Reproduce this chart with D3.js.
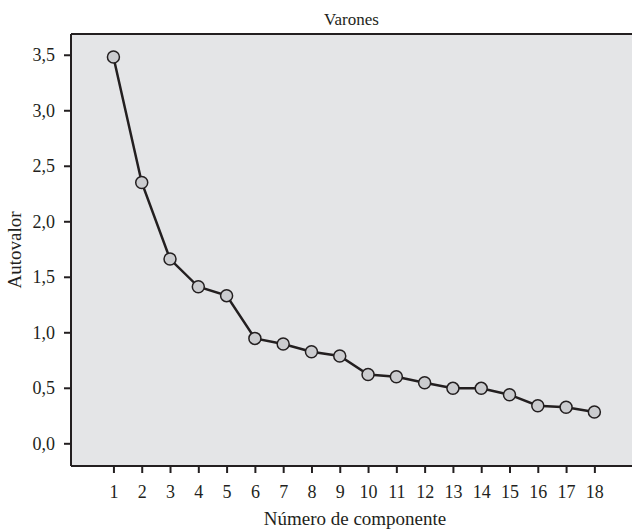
<!DOCTYPE html>
<html><head><meta charset="utf-8">
<script src="https://cdn.jsdelivr.net/npm/d3@7"></script>
<style>body{margin:0;background:#fff}svg{display:block}</style>
</head><body>
<script>
const components = [1,2,3,4,5,6,7,8,9,10,11,12,13,14,15,16,17,18];
const eigenvalues = [3.48,2.35,1.66,1.41,1.33,0.945,0.895,0.825,0.787,0.62,0.60,0.546,0.495,0.495,0.438,0.339,0.324,0.282];
const yTicks = [0,0.5,1.0,1.5,2.0,2.5,3.0,3.5];
const title = "Varones";
const xLabel = "Número de componente";
const yLabel = "Autovalor";

const W = 632, H = 530;
const L = 71, T = 34, R = 632, B = 466;
const font = "'Liberation Serif','Times New Roman',serif";
const ink = "#231f20";

const svg = d3.select("body").append("svg").attr("width", W).attr("height", H);
const x = d3.scaleLinear().domain([-0.5, 19.33]).range([L, R]);
const y = d3.scaleLinear().domain([-0.2045, 3.687]).range([B, T]);

svg.append("rect").attr("x", L).attr("y", T).attr("width", R - L).attr("height", B - T).attr("fill", "#e4e5e7");
svg.append("line").attr("x1", L).attr("x2", R).attr("y1", T).attr("y2", T).attr("stroke", ink).attr("stroke-width", 2);

const fmt = d => d3.format(".1f")(d).replace(".", ",");
const ya = svg.append("g").attr("transform", `translate(${L},0)`)
  .call(d3.axisLeft(y).tickValues(yTicks).tickFormat(fmt).tickSize(7).tickPadding(9));
const xa = svg.append("g").attr("transform", `translate(0,${B})`)
  .call(d3.axisBottom(x).tickValues(components).tickFormat(d3.format("d")).tickSize(7).tickPadding(12));
[ya, xa].forEach(a => {
  a.select(".domain").attr("stroke", ink).attr("stroke-width", 2);
  a.selectAll(".tick line").attr("stroke", ink).attr("stroke-width", 2);
  a.selectAll("text").attr("font-family", font).attr("font-size", 18).attr("fill", ink);
});
ya.select(".domain").attr("d", `M0,${T}V${B}`);
xa.select(".domain").attr("d", `M${L},0H${R}`);

svg.append("path").datum(components.map((c, i) => [c, eigenvalues[i]]))
  .attr("fill", "none").attr("stroke", ink).attr("stroke-width", 2.5)
  .attr("d", d3.line().x(d => x(d[0])).y(d => y(d[1])));
svg.selectAll("circle.pt").data(components).enter().append("circle")
  .attr("class", "pt").attr("cx", d => x(d)).attr("cy", (d, i) => y(eigenvalues[i]))
  .attr("r", 6).attr("fill", "#cbcccf").attr("stroke", ink).attr("stroke-width", 1.5);

svg.append("text").attr("x", (L + R) / 2).attr("y", 25).attr("text-anchor", "middle")
  .attr("font-family", font).attr("font-size", 17).attr("fill", ink).text(title);
svg.append("text").attr("x", 355).attr("y", 525).attr("text-anchor", "middle")
  .attr("font-family", font).attr("font-size", 19).attr("fill", ink).text(xLabel);
svg.append("text").attr("transform", `translate(21,${(T + B) / 2}) rotate(-90)`).attr("text-anchor", "middle")
  .attr("font-family", font).attr("font-size", 19).attr("fill", ink).text(yLabel);
</script>
</body></html>
